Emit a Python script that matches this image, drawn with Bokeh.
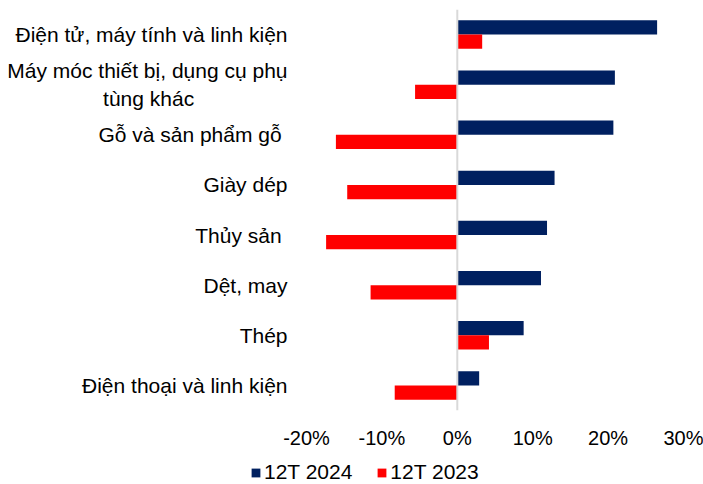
from bokeh.plotting import figure
from bokeh.layouts import column
from bokeh.models import (ColumnDataSource, FactorRange, Range1d, FixedTicker,
                          NumeralTickFormatter, Span, Legend, LegendItem)
from bokeh.transform import dodge
from bokeh.embed import file_html
from bokeh.resources import INLINE

NB = "\u00a0"
categories = [
    "Điện tử, máy tính và linh kiện",
    "Máy móc thiết bị, dụng cụ phụ\ntùng khác" + NB * 16,
    "Gỗ và sản phẩm gỗ ",
    "Giày dép",
    "Thủy sản ",
    "Dệt, may",
    "Thép",
    "Điện thoại và linh kiện",
]
growth_2024 = [26.5, 20.9, 20.7, 12.9, 11.9, 11.1, 8.8, 2.9]
growth_2023 = [3.3, -5.6, -16.1, -14.6, -17.4, -11.5, 4.2, -8.3]
x_ticks = [-0.2, -0.1, 0.0, 0.1, 0.2, 0.3]
series_names = ["12T 2024", "12T 2023"]
colors = ["#002060", "#FF0000"]

FONT = "Liberation Sans"

src = ColumnDataSource(dict(
    cat=categories,
    v2024=[v / 100 for v in growth_2024],
    v2023=[v / 100 for v in growth_2023],
))

fig = figure(width=703, height=451,
             y_range=FactorRange(factors=categories[::-1], range_padding=0),
             x_range=Range1d(-0.2, 0.3),
             output_backend="svg", toolbar_location=None,
             min_border_left=306, min_border_right=20,
             min_border_top=9, min_border_bottom=39)
fig.frame_align = False

fig.hbar(y=dodge("cat", 0.1425, range=fig.y_range), right="v2024", left=0,
         height=0.285, fill_color=colors[0], line_color=None, source=src)
fig.hbar(y=dodge("cat", -0.1425, range=fig.y_range), right="v2023", left=0,
         height=0.285, fill_color=colors[1], line_color=None, source=src)

fig.add_layout(Span(location=0, dimension="height", line_color="#D9D9D9", line_width=2))

fig.xaxis.ticker = FixedTicker(ticks=x_ticks)
fig.xaxis.formatter = NumeralTickFormatter(format="0%")
for ax in (fig.xaxis, fig.yaxis):
    ax.axis_line_color = None
    ax.major_tick_line_color = None
    ax.minor_tick_line_color = None
    ax.major_tick_out = 0
    ax.major_tick_in = 0
    ax.major_label_text_font = FONT
    ax.major_label_text_color = "#000000"
fig.xaxis.major_label_text_font_size = "20px"
fig.xaxis.major_label_standoff = 16
fig.yaxis.major_label_text_font_size = "21px"
fig.yaxis.major_label_standoff = 19

fig.xgrid.grid_line_color = None
fig.ygrid.grid_line_color = None
fig.outline_line_color = None

# legend strip below the chart: same series with zero-height bars (not visible)
lf = figure(width=703, height=33, x_range=Range1d(1, 2),
            y_range=FactorRange(factors=categories[::-1]),
            x_axis_type=None, y_axis_type=None,
            output_backend="svg", toolbar_location=None,
            min_border_left=0, min_border_right=0,
            min_border_top=0, min_border_bottom=0)
lf.frame_align = False
lf.grid.grid_line_color = None
lf.outline_line_color = None
d1 = lf.hbar(y="cat", right="v2024", left=0, height=0,
             fill_color=colors[0], line_color=None, source=src)
d2 = lf.hbar(y="cat", right="v2023", left=0, height=0,
             fill_color=colors[1], line_color=None, source=src)

legend = Legend(items=[LegendItem(label=series_names[0], renderers=[d1]),
                       LegendItem(label=series_names[1], renderers=[d2])],
                orientation="horizontal", location=(250, 0),
                border_line_color=None, background_fill_alpha=0,
                padding=0, margin=0, spacing=24, label_standoff=3,
                glyph_width=11, glyph_height=11, label_height=20,
                label_text_font=FONT, label_text_font_size="21px",
                label_text_color="#000000")
lf.add_layout(legend, "center")

p = column(fig, lf, spacing=0)

open("out.html", "w").write(file_html(p, INLINE))
